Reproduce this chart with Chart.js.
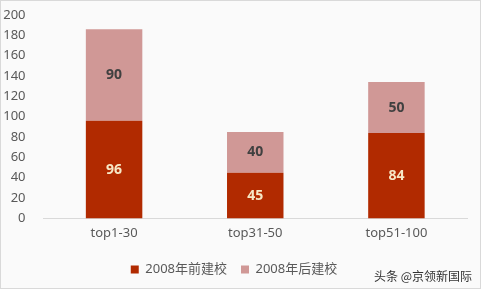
<!DOCTYPE html>
<html>
<head>
<meta charset="utf-8">
<script src="https://cdn.jsdelivr.net/npm/chart.js@4/dist/chart.umd.min.js"></script>
<style>
  body { margin: 0; background: #fff; }
  #wrap { position: relative; width: 481px; height: 289px; box-sizing: border-box; border: 1px solid #d9d9d9; background: #fafafa; }
  #mark { position: absolute; right: 8px; bottom: 4px; font: 12px "Noto Sans CJK SC", sans-serif; color: #333; }
</style>
</head>
<body>
<div id="wrap">
  <canvas id="chart1" width="479" height="287"></canvas>
  <div id="mark">头条 @京领新国际</div>
</div>
<script>
// categories and values
const categories = ["top1-30", "top31-50", "top51-100"];
const before2008 = [96, 45, 84];
const after2008 = [90, 40, 50];
const yTicks = [0, 20, 40, 60, 80, 100, 120, 140, 160, 180, 200];

const fontFamily = "'Noto Sans', 'Noto Sans CJK SC', sans-serif";

// draws value labels in the middle of each bar segment
const barLabels = {
    id: "barLabels",
    afterDatasetsDraw(chart) {
        const ctx = chart.ctx;
        chart.data.datasets.forEach((ds, i) => {
            chart.getDatasetMeta(i).data.forEach((bar, j) => {
                const mid = (bar.y + bar.base) / 2;
                ctx.save();
                ctx.font = "bold 14px " + fontFamily;
                ctx.fillStyle = i === 0 ? "#f7e8c6" : "#404040";
                ctx.textAlign = "center";
                ctx.textBaseline = "middle";
                ctx.fillText(ds.data[j], bar.x, mid);
                ctx.restore();
            });
        });
    }
};

new Chart(document.getElementById("chart1").getContext("2d"), {
    type: "bar",
    data: {
        labels: categories,
        datasets: [{
            label: "2008年前建校",
            data: before2008,
            backgroundColor: "#b12a00"
        }, {
            label: "2008年后建校",
            data: after2008,
            backgroundColor: "#d09896"
        }]
    },
    options: {
        responsive: false,
        animation: false,
        layout: { padding: { left: 0, right: 13, top: 14, bottom: 2 } },
        datasets: { bar: { categoryPercentage: 1, barPercentage: 0.4 } },
        plugins: {
            tooltip: { enabled: false },
            legend: {
                position: "bottom",
                labels: {
                    boxWidth: 8,
                    boxHeight: 8,
                    padding: 14,
                    color: "#595959",
                    font: { size: 13, family: fontFamily }
                }
            }
        },
        scales: {
            x: {
                stacked: true,
                grid: { display: false },
                border: { color: "#d9d9d9" },
                afterFit: axis => { axis.height = axis.height + 9; },
                ticks: { color: "#595959", font: { size: 13, family: fontFamily }, padding: -1 }
            },
            y: {
                stacked: true,
                min: 0,
                max: 200,
                afterBuildTicks: axis => { axis.ticks = yTicks.map(v => ({ value: v })); },
                // fixed width and no label overhang so the plot sits where it does in the picture
                afterFit: axis => { axis.width = 42.5; axis.paddingTop = 0; axis.paddingBottom = 0; },
                grid: { display: false },
                border: { display: false },
                ticks: { color: "#595959", font: { size: 13, family: fontFamily }, padding: 10 }
            }
        }
    },
    plugins: [barLabels]
});
</script>
</body>
</html>
